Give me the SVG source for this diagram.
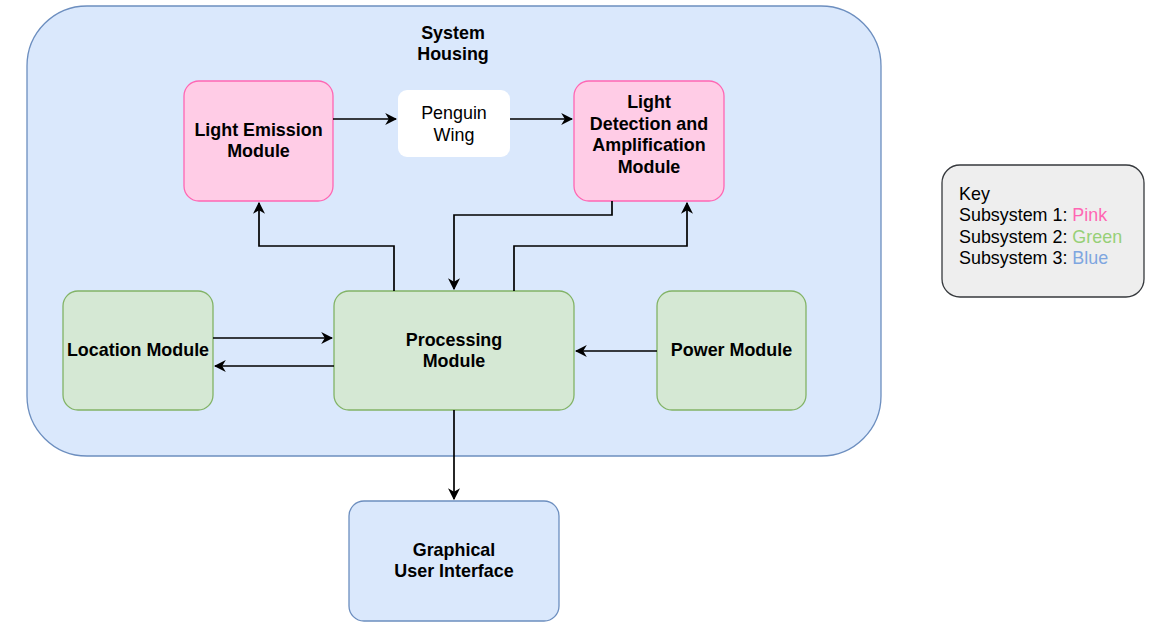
<svg xmlns="http://www.w3.org/2000/svg" width="1162" height="627" viewBox="0 0 1162 627">
<style>
.t{font-family:"Liberation Sans",Arial,sans-serif;font-size:17.9px;fill:#000;text-anchor:middle}
.b{font-weight:bold}
.pink{fill:#ffcce6;stroke:#ff66b3;stroke-width:1.3}
.green{fill:#d5e8d4;stroke:#82b366;stroke-width:1.3}
.blue{fill:#dae8fc;stroke:#6c8ebf;stroke-width:1.3}
.c{fill:none;stroke:#000;stroke-width:1.7}
</style>
<defs>
<marker id="a" viewBox="0 0 10 10" refX="9" refY="5" markerWidth="12" markerHeight="12" markerUnits="userSpaceOnUse" orient="auto">
<path d="M0,0 L10,5 L0,10 L3,5 Z" fill="#000"/>
</marker>
</defs>
<rect width="1162" height="627" fill="#fff"/>
<g id="housing">
<rect class="blue" x="27" y="6" width="854" height="450" rx="60"/>
<text class="t b" x="453" y="39">System</text>
<text class="t b" x="453" y="60">Housing</text>
</g>
<g id="light-emission">
<rect class="pink" x="184" y="81" width="149" height="120" rx="15"/>
<text class="t b" x="258.5" y="136">Light Emission</text>
<text class="t b" x="258.5" y="157">Module</text>
</g>
<g id="penguin-wing">
<rect x="398" y="90" width="112" height="67" rx="9" fill="#fff"/>
<text class="t" x="454" y="119">Penguin</text>
<text class="t" x="454" y="141">Wing</text>
</g>
<g id="light-detection">
<rect class="pink" x="574" y="81" width="150" height="120" rx="15"/>
<text class="t b" x="649" y="108">Light</text>
<text class="t b" x="649" y="130">Detection and</text>
<text class="t b" x="649" y="151">Amplification</text>
<text class="t b" x="649" y="173">Module</text>
</g>
<g id="processing">
<rect class="green" x="334" y="291" width="240" height="119" rx="15"/>
<text class="t b" x="454" y="346">Processing</text>
<text class="t b" x="454" y="367">Module</text>
</g>
<g id="location">
<rect class="green" x="63" y="291" width="150" height="119" rx="15"/>
<text class="t b" x="138" y="356">Location Module</text>
</g>
<g id="power">
<rect class="green" x="657" y="291" width="149" height="119" rx="15"/>
<text class="t b" x="731.5" y="356">Power Module</text>
</g>
<g id="gui">
<rect class="blue" x="349" y="501" width="210" height="120" rx="15"/>
<text class="t b" x="454" y="556">Graphical</text>
<text class="t b" x="454" y="577">User Interface</text>
</g>
<g id="key">
<rect x="942" y="165" width="202" height="132" rx="18" fill="#eeeeee" stroke="#36393d" stroke-width="1.3"/>
<text class="t" style="text-anchor:start" x="959" y="200">Key</text>
<text class="t" style="text-anchor:start" x="959" y="221">Subsystem 1: <tspan fill="#ff66b3">Pink</tspan></text>
<text class="t" style="text-anchor:start" x="959" y="243">Subsystem 2: <tspan fill="#97d077">Green</tspan></text>
<text class="t" style="text-anchor:start" x="959" y="264">Subsystem 3: <tspan fill="#7ea6e0">Blue</tspan></text>
</g>
<g id="connectors">
<path class="c" d="M333,119 H396" marker-end="url(#a)"/>
<path class="c" d="M510,119 H572" marker-end="url(#a)"/>
<path class="c" d="M394,291 V246 H259 V203" marker-end="url(#a)"/>
<path class="c" d="M612,201 V215 H454 V289" marker-end="url(#a)"/>
<path class="c" d="M514,291 V246 H687 V203" marker-end="url(#a)"/>
<path class="c" d="M213,338 H332" marker-end="url(#a)"/>
<path class="c" d="M334,366 H215" marker-end="url(#a)"/>
<path class="c" d="M657,351 H576" marker-end="url(#a)"/>
<path class="c" d="M454,410 V499" marker-end="url(#a)"/>
</g>
</svg>
